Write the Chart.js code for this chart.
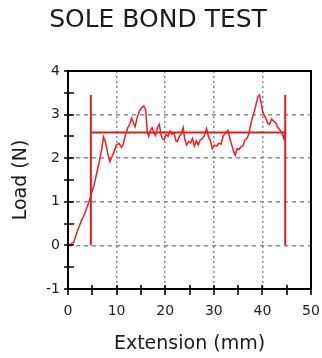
<!DOCTYPE html>
<html>
<head>
<meta charset="utf-8">
<script src="https://cdn.jsdelivr.net/npm/chart.js@4"></script>
<style>
  html, body { margin: 0; padding: 0; background: #fff; }
  #wrap { width: 322px; height: 358px; }
</style>
</head>
<body>
<div id="wrap"><canvas id="c" width="322" height="358"></canvas></div>
<script>
const extension = [0, 0.6, 1.2, 2.0, 2.7, 3.4, 4.0, 4.6, 5.4, 6.0, 6.5, 7.0, 7.3, 7.7, 8.2, 8.6, 9.1, 9.5, 9.9, 10.5, 11.0, 11.3, 11.8, 12.3, 12.6, 13.1, 13.5, 13.8, 14.2, 14.7, 15.2, 15.6, 16.0, 16.3, 16.6, 16.9, 17.3, 17.7, 18.0, 18.4, 18.8, 19.1, 19.4, 19.8, 20.2, 20.6, 21.0, 21.4, 21.8, 22.2, 22.5, 22.9, 23.3, 23.7, 24.0, 24.4, 24.8, 25.2, 25.6, 26.0, 26.4, 26.8, 27.2, 27.6, 28.0, 28.5, 28.9, 29.3, 29.7, 30.1, 30.6, 31.0, 31.5, 31.9, 32.4, 32.9, 33.3, 33.7, 34.1, 34.4, 34.8, 35.2, 35.6, 36.0, 36.4, 36.8, 37.2, 37.6, 38.0, 38.4, 38.8, 39.1, 39.4, 39.7, 40.0, 40.3, 40.7, 41.1, 41.5, 41.9, 42.3, 42.7, 43.1, 43.5, 43.9, 44.2, 44.4, 44.6];
const load = [0, 0.03, 0.08, 0.35, 0.55, 0.72, 0.9, 1.1, 1.4, 1.7, 1.95, 2.25, 2.49, 2.38, 2.1, 1.92, 2.05, 2.15, 2.3, 2.34, 2.25, 2.3, 2.52, 2.7, 2.75, 2.92, 2.8, 2.72, 2.92, 3.08, 3.16, 3.2, 3.1, 2.62, 2.5, 2.62, 2.7, 2.58, 2.52, 2.7, 2.78, 2.55, 2.45, 2.42, 2.55, 2.5, 2.62, 2.55, 2.58, 2.4, 2.38, 2.5, 2.55, 2.7, 2.45, 2.3, 2.38, 2.35, 2.45, 2.28, 2.4, 2.3, 2.42, 2.45, 2.5, 2.68, 2.5, 2.4, 2.22, 2.3, 2.28, 2.34, 2.32, 2.5, 2.58, 2.64, 2.45, 2.3, 2.15, 2.07, 2.22, 2.2, 2.26, 2.28, 2.42, 2.45, 2.55, 2.78, 2.95, 3.1, 3.28, 3.42, 3.45, 3.3, 3.1, 3.0, 2.92, 2.8, 2.78, 2.9, 2.85, 2.82, 2.72, 2.66, 2.6, 2.52, 2.45, 2.58];

const startExt = 4.7;
const endExt = 44.7;
const avgLoad = 2.59;
const markerTop = 3.45;

const xTicks = [0, 10, 20, 30, 40, 50];
const yTicks = [-1, 0, 1, 2, 3, 4];

const frame = {
  id: 'frame',
  afterDatasetsDraw(chart) {
    const { ctx, chartArea: a, scales: { x, y } } = chart;
    ctx.save();
    ctx.strokeStyle = '#000';
    ctx.lineWidth = 2;
    ctx.strokeRect(a.left, a.top, a.right - a.left, a.bottom - a.top);
    ctx.lineWidth = 1.6;
    ctx.beginPath();
    for (let v = -1; v <= 4; v += 0.5) {
      const py = Math.round(y.getPixelForValue(v));
      ctx.moveTo(a.left - 4, py);
      ctx.lineTo(a.left + 6, py);
    }
    for (let v = 0; v <= 50; v += 5) {
      const px = Math.round(x.getPixelForValue(v));
      ctx.moveTo(px, a.bottom - 4);
      ctx.lineTo(px, a.bottom + 6);
    }
    ctx.stroke();
    ctx.restore();
  }
};

new Chart(document.getElementById('c'), {
  type: 'line',
  data: {
    datasets: [{
      data: extension.map((e, i) => ({ x: e, y: load[i] })),
      borderColor: '#ee1c24',
      borderWidth: 1.5,
      pointRadius: 0,
      tension: 0
    }, {
      data: [{ x: startExt, y: 0 }, { x: startExt, y: markerTop }],
      borderColor: '#d42020',
      borderWidth: 2,
      pointRadius: 0
    }, {
      data: [{ x: endExt, y: 0 }, { x: endExt, y: markerTop }],
      borderColor: '#d42020',
      borderWidth: 2,
      pointRadius: 0
    }, {
      data: [{ x: startExt, y: avgLoad }, { x: endExt, y: avgLoad }],
      borderColor: '#d42020',
      borderWidth: 2,
      pointRadius: 0
    }]
  },
  options: {
    responsive: false,
    animation: false,
    layout: { padding: { left: 0, right: 6, top: 0, bottom: 0 } },
    plugins: {
      legend: { display: false },
      tooltip: { enabled: false },
      title: {
        display: true,
        text: 'SOLE BOND TEST',
        color: '#1a1a1a',
        font: { family: 'DejaVu Sans', size: 25, weight: 'normal' },
        padding: { top: 5, bottom: 36 }
      }
    },
    scales: {
      x: {
        type: 'linear',
        min: 0,
        max: 50,
        afterBuildTicks: s => { s.ticks = xTicks.map(v => ({ value: v })); },
        afterFit: s => { s.height = 69; s.paddingLeft = 0; s.paddingRight = 11; },
        border: { display: false, dash: [2, 3] },
        grid: {
          drawTicks: false,
          color: ctx => (ctx.tick.value === 0 || ctx.tick.value === 50) ? 'rgba(0,0,0,0)' : '#8a8a8a',
          lineWidth: 1.5
        },
        ticks: { color: '#222', padding: 14, font: { family: 'DejaVu Sans', size: 14 } },
        title: {
          display: true,
          text: 'Extension (mm)',
          color: '#1a1a1a',
          font: { family: 'DejaVu Sans', size: 19 },
          padding: { top: 0, bottom: 3 }
        }
      },
      y: {
        min: -1,
        max: 4,
        afterBuildTicks: s => { s.ticks = yTicks.map(v => ({ value: v })); },
        afterFit: s => { s.width = 68; },
        border: { display: false, dash: [4, 4] },
        grid: {
          drawTicks: false,
          color: ctx => (ctx.tick.value === -1 || ctx.tick.value === 4) ? 'rgba(0,0,0,0)' : '#8a8a8a',
          lineWidth: 1.5
        },
        ticks: { color: '#222', padding: 8, font: { family: 'DejaVu Sans', size: 14 } },
        title: {
          display: true,
          text: 'Load (N)',
          color: '#1a1a1a',
          font: { family: 'DejaVu Sans', size: 19 },
          padding: { top: 10, bottom: 0 }
        }
      }
    }
  },
  plugins: [frame]
});
</script>
</body>
</html>
